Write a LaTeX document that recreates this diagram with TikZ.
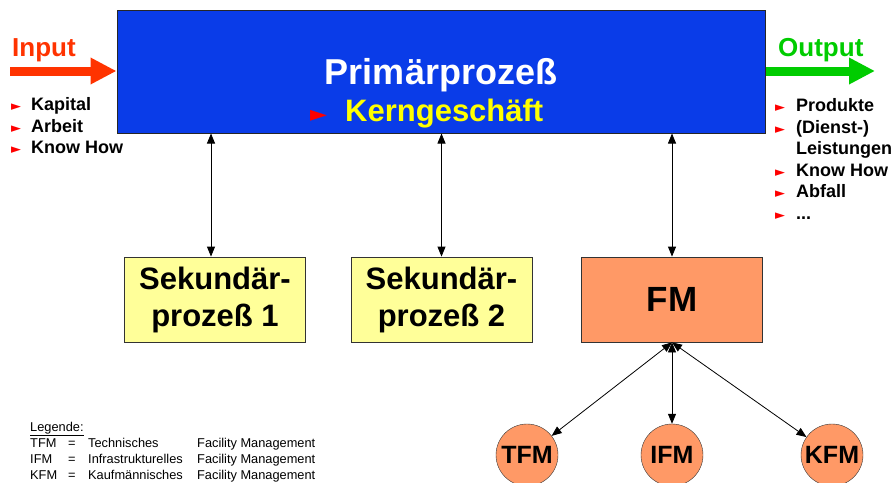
\documentclass[tikz,border=0pt]{standalone}
\usepackage{fontspec}
\setmainfont{Liberation Sans}
\newfontfamily\symfont{DejaVu Sans}
\usetikzlibrary{arrows.meta}

\definecolor{primblue}{RGB}{10,60,232}
\definecolor{inred}{RGB}{255,51,0}
\definecolor{outgreen}{RGB}{0,204,0}
\definecolor{sekyellow}{RGB}{255,255,153}
\definecolor{fmorange}{RGB}{255,153,102}
\definecolor{kernyellow}{RGB}{255,255,0}

\newcommand{\redbul}[1]{\makebox[#1][l]{{\symfont\fontsize{13}{13}\selectfont\color{red}►}}}

\begin{document}
\begin{tikzpicture}[x=1pt,y=-1pt,
  txt/.style={inner sep=0pt, anchor=base west},
  box/.style={draw=black!80, line width=0.8pt, minimum width=181pt, minimum height=85pt, align=center, font=\fontsize{31}{37}\selectfont\bfseries},
  sub/.style={draw=black!80, circle, fill=fmorange, minimum size=62pt, inner sep=0pt, font=\fontsize{25}{25}\selectfont\bfseries},
  link/.style={draw, line width=0.8pt, {Triangle[length=10pt,width=8pt]}-{Triangle[length=10pt,width=8pt]}},
  flow/.style={line width=9pt, -{Triangle[length=26pt,width=25pt]}},
  list/.style={txt, align=left, font=\fontsize{18}{21.5}\selectfont\bfseries}]
\useasboundingbox (0,0) rectangle (893,482);

% Primaerprozess
\node[draw=black!85, line width=1pt, fill=primblue, minimum width=648pt, minimum height=123pt] (prim) at (441,71.5) {};
\node[inner sep=0pt, anchor=base, text=white, font=\fontsize{36}{36}\selectfont\bfseries] (primtxt) at (441,84) {Primärprozeß};
\node[txt, text=kernyellow, font=\fontsize{31}{31}\selectfont\bfseries] (kern) at (310,121) {\makebox[35pt][l]{{\symfont\fontsize{22}{22}\selectfont\color{red}►}}Kerngeschäft};

% Input (base = last line)
\node[txt, text=inred, font=\fontsize{26}{26}\selectfont\bfseries] (input) at (12,56) {Input};
\coordinate (instart) at (10,71);
\draw[flow, inred] (instart) -- (instart -| prim.west);
\node[list] (inlist) at (11,153.5) {\redbul{20pt}Kapital\\\redbul{20pt}Arbeit\\\redbul{20pt}Know How};

% Output (base = last line)
\node[txt, text=outgreen, font=\fontsize{26}{26}\selectfont\bfseries] (output) at (778,56) {Output};
\coordinate (outend) at (875,71);
\draw[flow, outgreen] (outend -| prim.east) -- (outend);
\node[list] (outlist) at (775,219) {\redbul{21pt}Produkte\\\redbul{21pt}(Dienst-)\\\hspace*{21pt}Leistungen\\\redbul{21pt}Know How\\\redbul{21pt}Abfall\\\redbul{21pt}...};

% Sekundaerprozesse und FM
\node[box, fill=sekyellow] (sek1) at (215,299.5) {Sekundär-\\prozeß 1};
\node[box, fill=sekyellow] (sek2) at (441.5,299.5) {Sekundär-\\prozeß 2};
\node[box, fill=fmorange, font=\fontsize{35}{35}\selectfont\bfseries] (fm) at (672,299.5) {FM};
\path[link] ([xshift=-4pt]sek1.north) -- ([xshift=-4pt]sek1.north |- prim.south);
\path[link] (sek2.north) -- (sek2.north |- prim.south);
\path[link] (fm.north) -- (fm.north |- prim.south);

% TFM, IFM, KFM
\node[sub] (tfm) at (527,455) {TFM};
\node[sub] (ifm) at (672,455) {IFM};
\node[sub] (kfm) at (832,455) {KFM};
\foreach \c in {tfm,ifm,kfm}
  \path[link] (fm.south) -- (\c);

% Legende
\node[txt, font=\fontsize{12.8}{16}\selectfont] (legend) at (30,431.5) {\begin{tabular}[t]{@{}p{38pt}@{}p{20pt}@{}p{109pt}@{}l@{}}
\multicolumn{4}{@{}l}{\underline{Legende:}}\\
TFM & = & Technisches & Facility Management\\
IFM & = & Infrastrukturelles & Facility Management\\
KFM & = & Kaufmännisches & Facility Management
\end{tabular}};
\end{tikzpicture}
\end{document}
